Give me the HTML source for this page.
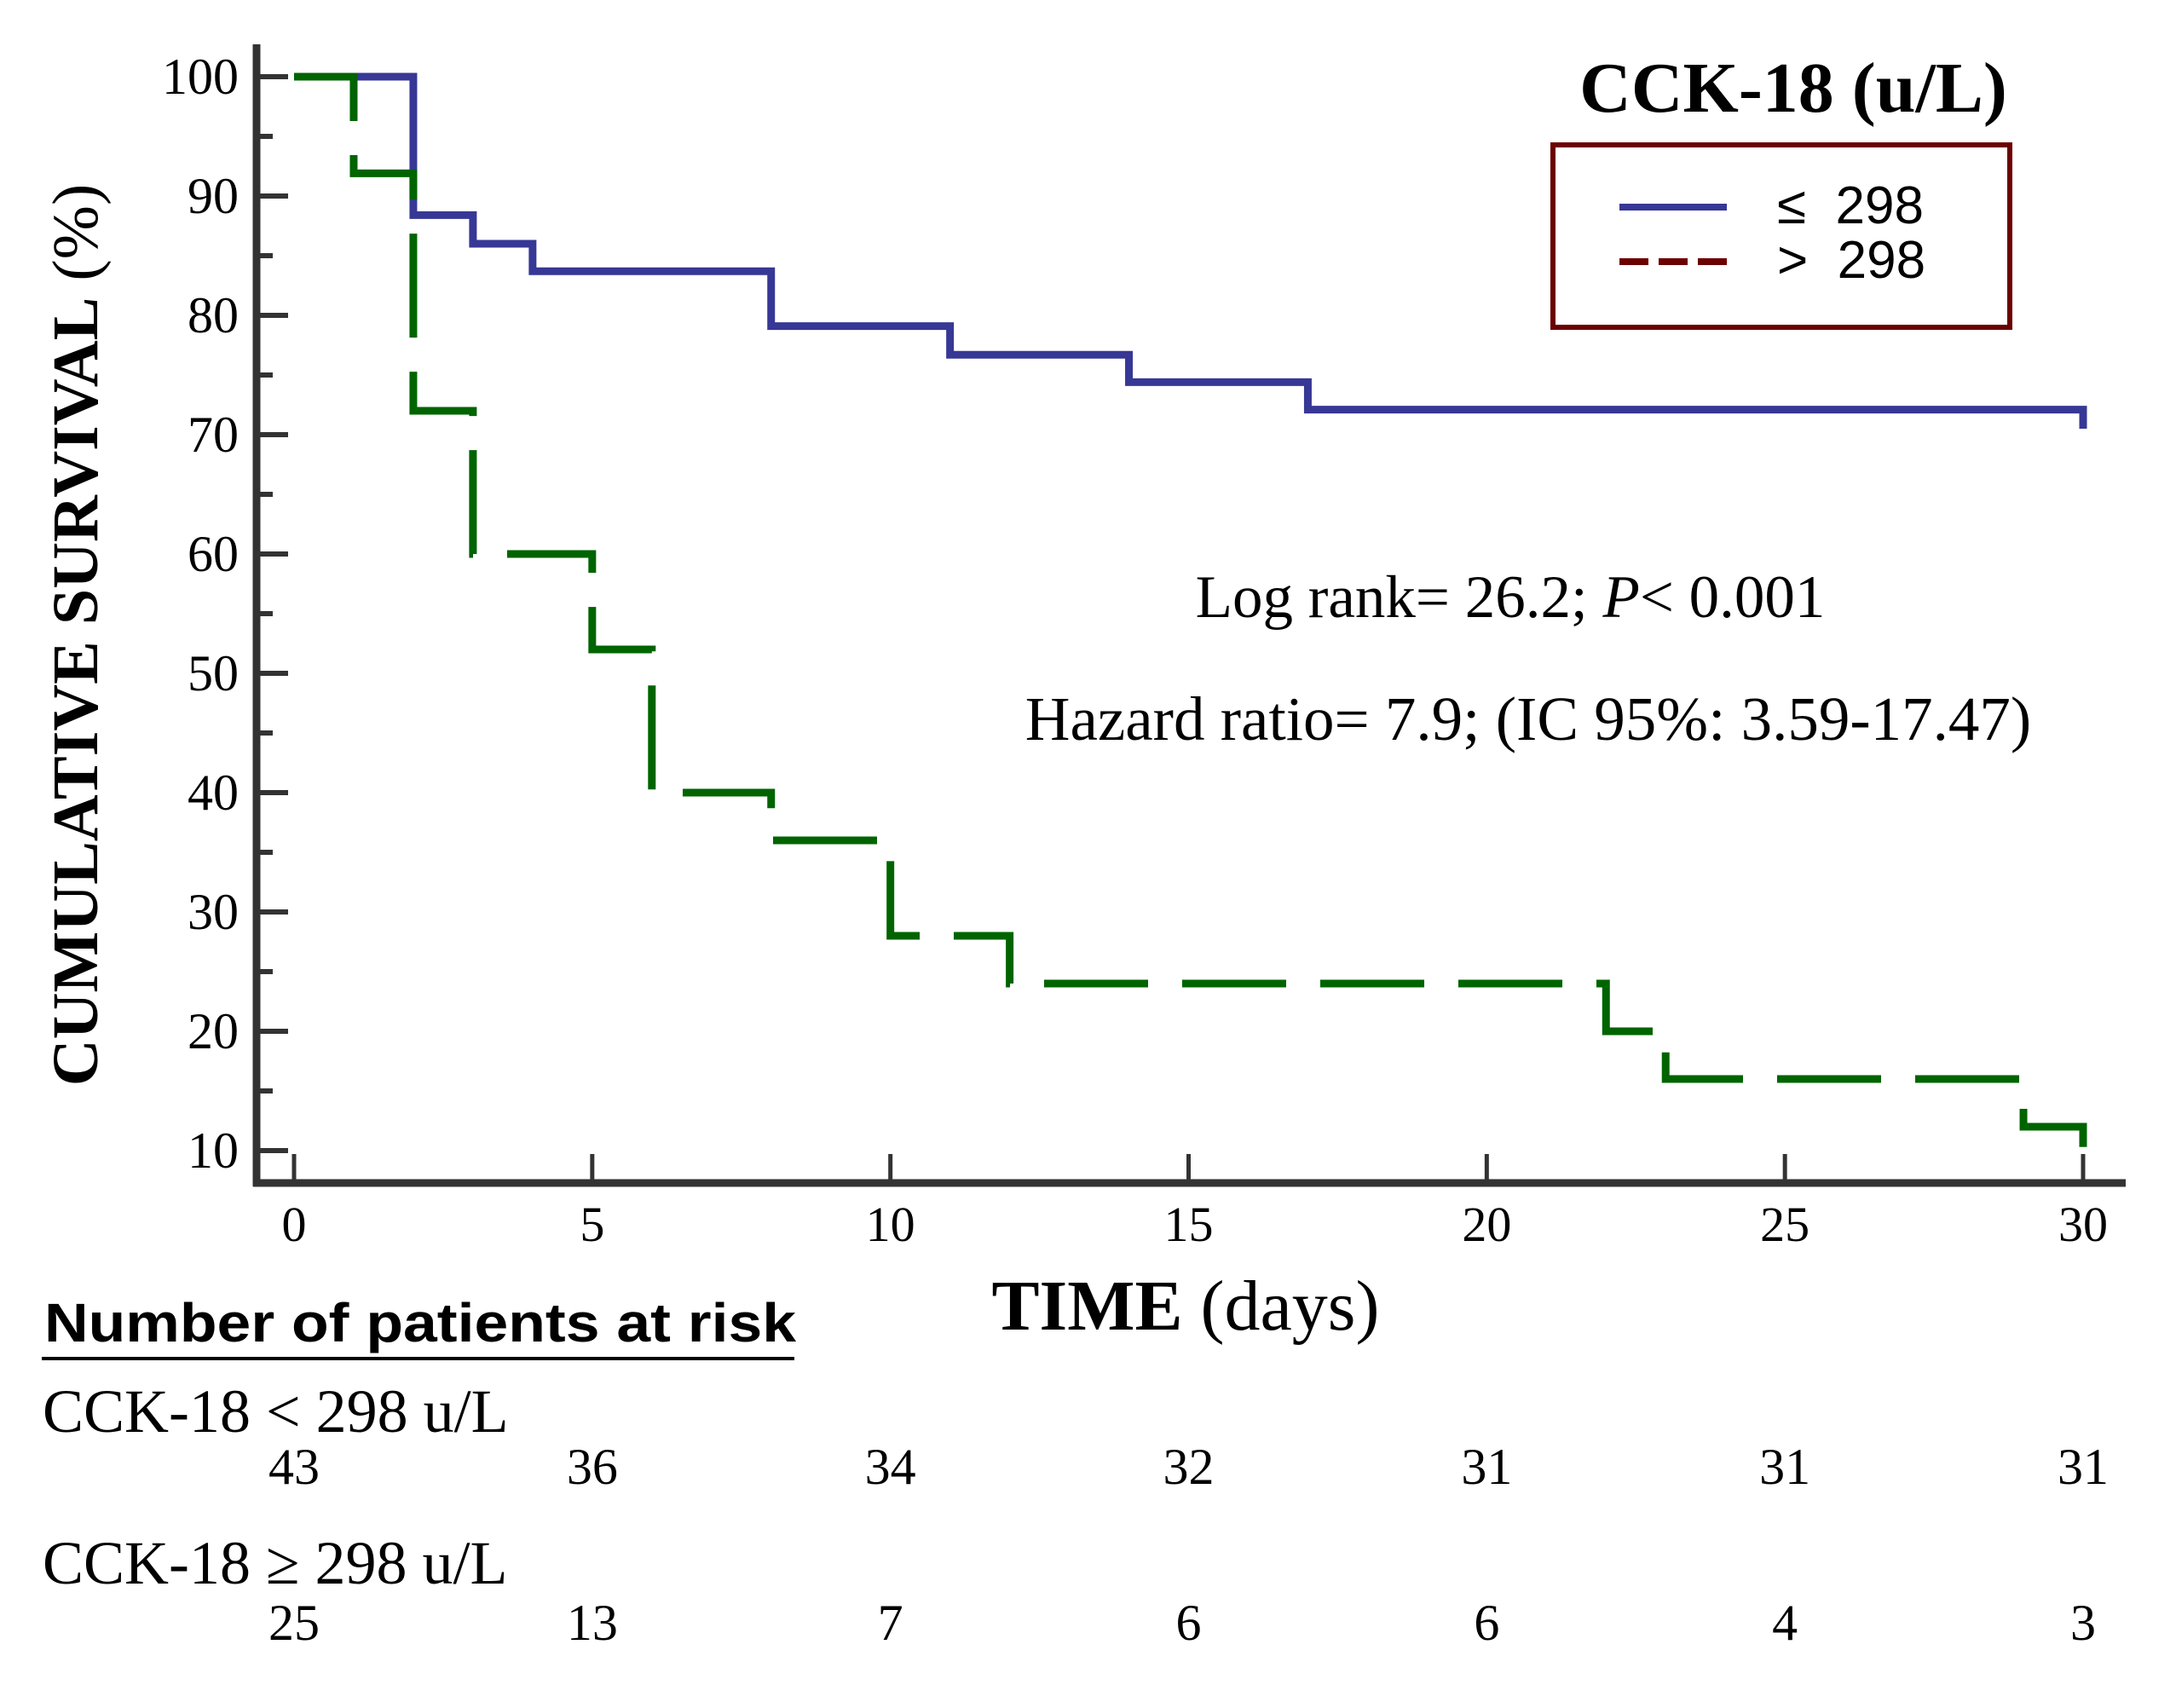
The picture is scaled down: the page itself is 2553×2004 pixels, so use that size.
<!DOCTYPE html>
<html><head><meta charset="utf-8"><style>
html,body{margin:0;padding:0;background:#fff;}
svg{display:block;}
.serif{font-family:"Liberation Serif",serif;}
.sans{font-family:"Liberation Sans",sans-serif;}
</style></head><body>
<svg id="chart" width="2553" height="2004" viewBox="0 0 2553 2004" xmlns="http://www.w3.org/2000/svg">
<g id="axes"></g>
<g id="series"></g>
<text class="serif" transform="translate(114,745) rotate(-90)" text-anchor="middle" font-size="76" fill="#000"><tspan font-weight="bold">CUMULATIVE SURVIVAL</tspan> (%)</text>
<text class="serif" x="1391" y="1560" text-anchor="middle" font-size="84" fill="#000"><tspan font-weight="bold">TIME</tspan> (days)</text>
<text class="serif" x="2104" y="131" text-anchor="middle" font-size="84" font-weight="bold" fill="#000">CCK-18 (u/L)</text>
<rect x="1822" y="170" width="536" height="214" fill="none" stroke="#6b0000" stroke-width="6"/>
<line x1="1900" y1="243" x2="2026" y2="243" stroke="#373796" stroke-width="8"/>
<line x1="1900" y1="307" x2="2026" y2="307" stroke="#6b0000" stroke-width="8" stroke-dasharray="34 12"/>
<text class="sans" x="2085" y="262" font-size="62" fill="#000" xml:space="preserve">≤  298</text>
<text class="sans" x="2085" y="326" font-size="62" fill="#000" xml:space="preserve">&gt;  298</text>
<text class="serif" x="1772" y="724" text-anchor="middle" font-size="71" fill="#000">Log rank= 26.2; <tspan font-style="italic">P</tspan>&lt; 0.001</text>
<text class="serif" x="1793" y="868" text-anchor="middle" font-size="73" fill="#000">Hazard ratio= 7.9; (IC 95%: 3.59-17.47)</text>
<text class="sans" x="52" y="1574" font-size="64" font-weight="bold" fill="#000" textLength="882" lengthAdjust="spacingAndGlyphs">Number of patients at risk</text>
<line x1="49" y1="1594" x2="932" y2="1594" stroke="#000" stroke-width="4"/>
<text class="serif" x="50" y="1680" font-size="72" fill="#000">CCK-18 &lt; 298 u/L</text>
<text class="serif" x="50" y="1858" font-size="72" fill="#000">CCK-18 ≥ 298 u/L</text>
<g id="risk"></g>
</svg>
<script>
const xTicks=[0,5,10,15,20,25,30];
const yTicks=[10,20,30,40,50,60,70,80,90,100];
const lowTimes=[0,2,3,4,8,11,14,17,30];
const lowSurv=[100,88.4,86.0,83.7,79.1,76.7,74.4,72.1,70.5];
const highTimes=[0,1,2,3,5,6,8,10,12,22,23,29,30];
const highSurv=[100,91.9,72,60,52,40,36,28,24,20,16,12,10.3];
const riskLow=[43,36,34,32,31,31,31];
const riskHigh=[25,13,7,6,6,4,3];

const NS="http://www.w3.org/2000/svg";
const X=t=>345+(2444-345)*t/30;
const Y=v=>90+(1350-90)*(100-v)/90;
function mk(tag,attrs,parent){const e=document.createElementNS(NS,tag);for(const k in attrs)e.setAttribute(k,attrs[k]);parent.appendChild(e);return e;}
const axes=document.getElementById('axes');
let e=mk('line',{x1:301,y1:52,x2:301,y2:1392,stroke:'#333','stroke-width':9},axes);


e=mk('line',{x1:297,y1:1388,x2:2494,y2:1388,stroke:'#333','stroke-width':9},axes);


yTicks.forEach(v=>{
  const t=mk('line',{x1:301,y1:Y(v),x2:338,y2:Y(v),stroke:'#333','stroke-width':6},axes);
  
  
  if(v<100){const m=mk('line',{x1:301,y1:Y(v+5),x2:320,y2:Y(v+5),stroke:'#333','stroke-width':6},axes);
  
  }
  const l=mk('text',{x:280,y:Y(v)+20,'text-anchor':'end','font-size':60,'class':'serif',fill:'#000'},axes);
  l.textContent=v;
  
  
});
const risk=document.getElementById('risk');
xTicks.forEach((v,i)=>{
  const t=mk('line',{x1:X(v),y1:1354,x2:X(v),y2:1388,stroke:'#333','stroke-width':5},axes);
  
  
  const l=mk('text',{x:X(v),y:1456,'text-anchor':'middle','font-size':58,'class':'serif',fill:'#000'},axes);
  l.textContent=v;
  
  
  const a=mk('text',{x:X(v),y:1741,'text-anchor':'middle','font-size':60,'class':'serif',fill:'#000'},risk);
  a.textContent=riskLow[i];
  
  
  const b=mk('text',{x:X(v),y:1924,'text-anchor':'middle','font-size':60,'class':'serif',fill:'#000'},risk);
  b.textContent=riskHigh[i];
  
  
});
function stepPath(ts,vs){
  let d='M'+X(ts[0])+','+Y(vs[0]);
  for(let i=1;i<ts.length;i++){d+=' H'+X(ts[i])+' V'+Y(vs[i]);}
  return d;
}
const ser=document.getElementById('series');
const pl=mk('path',{d:stepPath(lowTimes,lowSurv),fill:'none',stroke:'#373796','stroke-width':9},ser);


const ph=mk('path',{d:stepPath(highTimes,highSurv),fill:'none',stroke:'#006400','stroke-width':9,'stroke-dasharray':'122 40'},ser);


</script>
</body></html>
